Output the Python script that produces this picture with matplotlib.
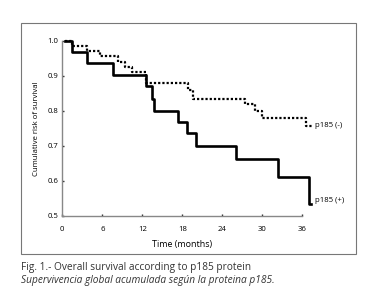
import matplotlib.pyplot as plt
from matplotlib.patches import Rectangle

# p185 (+) survival steps
pos_time = [0.4, 1.4, 3.75, 7.55, 12.5, 13.45, 13.8, 17.3, 18.75, 20.0, 26.0, 32.3, 37.0, 37.3]
pos_surv = [1.0, 0.969, 0.935, 0.901, 0.871, 0.834, 0.80, 0.767, 0.736, 0.70, 0.662, 0.611, 0.534, 0.534]

# p185 (-) survival steps
neg_time = [0.4, 1.4, 3.75, 5.65, 8.4, 9.4, 10.4, 12.5, 18.9, 19.6, 27.4, 28.9, 29.9, 36.6, 37.4]
neg_surv = [1.0, 0.986, 0.97, 0.955, 0.94, 0.925, 0.91, 0.88, 0.86, 0.835, 0.82, 0.80, 0.78, 0.757, 0.757]

xticks = [0, 6, 12, 18, 24, 30, 36]
yticks = [0.5, 0.6, 0.7, 0.8, 0.9, 1.0]

font = ['Open Sans', 'DejaVu Sans']
plt.rcParams['font.family'] = font

fig = plt.figure(figsize=(3.72, 2.94), dpi=100)
ax = fig.add_axes([62.3 / 372, 78 / 294, 240 / 372, 175.3 / 294])

ax.step(pos_time, pos_surv, where='post', color='black', lw=1.9, clip_on=False)
ax.step(neg_time, neg_surv, where='post', color='black', lw=1.6,
        linestyle=(0, (1, 0.9)), clip_on=False)

ax.text(37.9, neg_surv[-1], 'p185 (-)', fontsize=5.6, va='center', ha='left')
ax.text(37.9, pos_surv[-1] + 0.01, 'p185 (+)', fontsize=5.6, va='center', ha='left')

ax.set_xlim(0, 36)
ax.set_ylim(0.5, 1.0)
ax.set_xticks(xticks)
ax.set_xticklabels([str(t) for t in xticks])
ax.set_yticks(yticks)
ax.set_yticklabels(['%.1f' % v for v in yticks])
ax.tick_params(labelsize=5.6, length=1.5, width=1, color='#333333', direction='in', pad=7)
ax.tick_params(axis='y', pad=3)

for s in ['top', 'right']:
    ax.spines[s].set_visible(False)
for s in ['left', 'bottom']:
    ax.spines[s].set_color('#888888')
    ax.spines[s].set_linewidth(1)

ax.set_xlabel('Time (months)', fontsize=6.4, labelpad=5)
ax.set_ylabel('Cumulative risk of survival', fontsize=5.6, labelpad=5)

fig.patches.append(Rectangle((21 / 372, 1 - 254 / 294), 335 / 372, 231 / 294,
                             transform=fig.transFigure, fill=False,
                             edgecolor='#777777', lw=0.8))

fig.text(21 / 372, 1 - 270 / 294, 'Fig. 1.- Overall survival according to p185 protein',
         fontsize=7.3, color='#333333', va='baseline')
fig.text(21 / 372, 1 - 283 / 294, 'Supervivencia global acumulada según la proteina p185.',
         fontsize=7.3, color='#333333', style='italic', va='baseline')

fig.savefig('out.png', dpi=100)
